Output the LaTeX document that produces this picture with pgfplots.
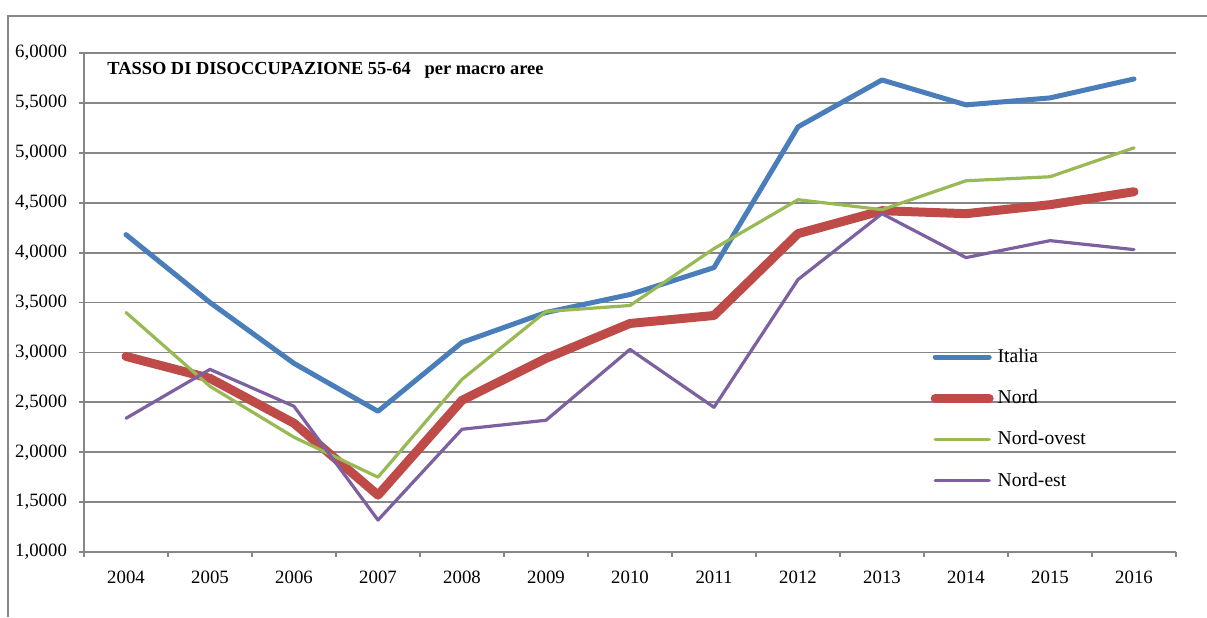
\documentclass[border=0pt]{standalone}
\usepackage{pgfplots}
\pgfplotsset{compat=1.18}
\usepackage{fontspec}
\setmainfont{Liberation Serif}
\definecolor{cIt}{RGB}{74,126,187}
\definecolor{cNo}{RGB}{190,75,72}
\definecolor{cNO}{RGB}{152,185,84}
\definecolor{cNE}{RGB}{125,96,160}
\definecolor{cGrid}{RGB}{134,134,134}
\begin{document}
\begin{tikzpicture}
\useasboundingbox (0,0) rectangle (603.5pt,308.5pt);
\draw[cGrid, line width=1pt] (4pt,0) -- (4pt,300.5pt) -- (603.5pt,300.5pt);
\begin{axis}[
  at={(42pt,32.5pt)}, anchor=south west,
  scale only axis, width=546pt, height=249.5pt,
  xmin=-0.5, xmax=12.5, ymin=1, ymax=6,
  ytick={1,1.5,...,6},
  xtick={-0.5,0.5,...,12.5}, xticklabels={},
  extra x ticks={0,1,...,12},
  extra x tick labels={2004,2005,2006,2007,2008,2009,2010,2011,2012,2013,2014,2015,2016},
  extra x tick style={major tick length=0pt, xticklabel style={yshift=-6pt}},
  tick align=outside, major tick length=2.5pt,
  axis x line*=bottom, axis y line*=left,
  axis line style={cGrid, line width=0.9pt},
  every tick/.style={cGrid, line width=0.9pt},
  ymajorgrids, grid style={cGrid, line width=0.9pt},
  yticklabel style={xshift=-2.5pt, /pgf/number format/.cd, fixed, fixed zerofill, precision=4, use comma, assume math mode=true},
  ticklabel style={font=\fontsize{9.4}{11}\selectfont},
  legend style={draw=none, fill=none, at={(0.775,0.416)}, anchor=north west,
    font=\fontsize{9.8}{11}\selectfont, row sep=8.3pt, inner sep=0pt},
  legend cell align=left,
  legend image code/.code={\draw[#1] (0pt,0pt) -- (27pt,0pt);},
  every axis plot/.append style={line join=round, line cap=round},
  clip=false,
]
\addplot[cIt, line width=2.5pt] coordinates {(0,4.18) (1,3.50) (2,2.89) (3,2.41) (4,3.10) (5,3.40) (6,3.58) (7,3.85) (8,5.26) (9,5.73) (10,5.48) (11,5.55) (12,5.74)};
\addplot[cNo, line width=4.5pt] coordinates {(0,2.96) (1,2.74) (2,2.29) (3,1.57) (4,2.52) (5,2.94) (6,3.29) (7,3.37) (8,4.19) (9,4.42) (10,4.39) (11,4.48) (12,4.61)};
\addplot[cNO, line width=1.6pt] coordinates {(0,3.40) (1,2.66) (2,2.15) (3,1.75) (4,2.73) (5,3.41) (6,3.47) (7,4.04) (8,4.53) (9,4.43) (10,4.72) (11,4.76) (12,5.05)};
\addplot[cNE, line width=1.6pt] coordinates {(0,2.34) (1,2.83) (2,2.46) (3,1.32) (4,2.23) (5,2.32) (6,3.03) (7,2.45) (8,3.73) (9,4.39) (10,3.95) (11,4.12) (12,4.03)};
\legend{Italia, Nord, Nord-ovest, Nord-est}
\node[anchor=west, font=\bfseries\fontsize{9.2}{11}\selectfont] at (axis description cs:0.015,0.966) {TASSO DI DISOCCUPAZIONE 55-64\ \ \ per macro aree};
\end{axis}
\end{tikzpicture}
\end{document}
